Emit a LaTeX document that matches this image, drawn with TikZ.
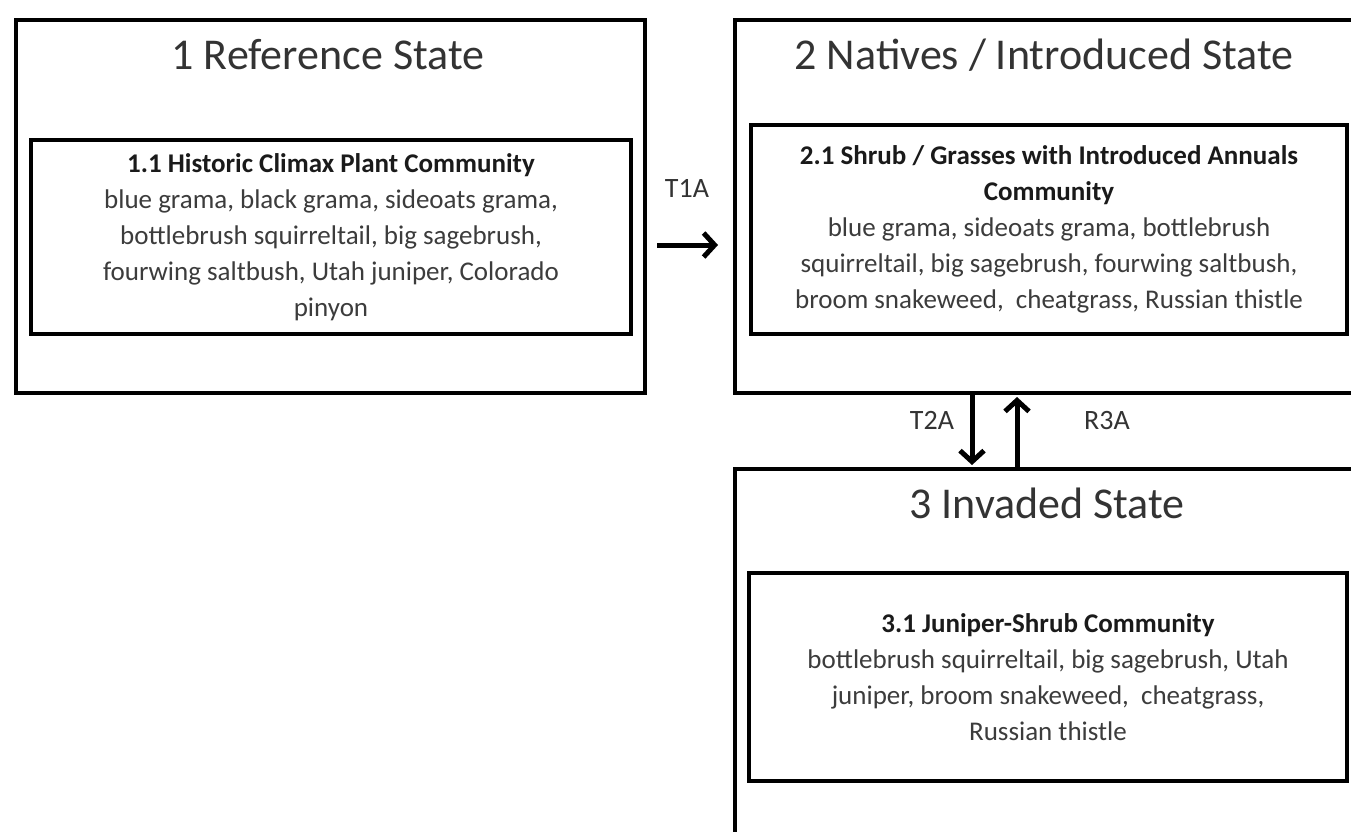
\documentclass[tikz,border=0pt]{standalone}
\usepackage{fontspec}
\setmainfont{Carlito}
\usetikzlibrary{arrows.meta,calc}
\definecolor{titlegray}{HTML}{333333}
\definecolor{bodygray}{HTML}{3C3C3C}
\definecolor{headgray}{HTML}{1A1A1A}
\begin{document}
\begin{tikzpicture}[x=1pt,y=-1pt,
  statebox/.style={draw=black,line width=4pt,rectangle,inner sep=0pt,anchor=north west},
  commbox/.style={draw=black,line width=4pt,rectangle,inner sep=0pt,anchor=north west,
    text=bodygray,font=\fontsize{27}{36}\selectfont,align=center},
  statetitle/.style={text=titlegray,font=\fontsize{44}{50}\selectfont,inner sep=0pt},
  lab/.style={text=titlegray,font=\fontsize{28}{32}\selectfont,inner sep=0pt},
  arr/.style={line width=5pt,-{Straight Barb[length=11pt,width=24pt]}}]
\clip (0,0) rectangle (1351,831);
\fill[white] (0,0) rectangle (1351,831);
% State 1
\node[statebox,minimum width=629pt,minimum height=373pt] (s1) at (14,18) {};
\node[statetitle] (s1t) at (328,55) {1 Reference State};
\node[commbox,minimum width=600pt,minimum height=194pt] (c11) at (29,138)
  {{\color{headgray}\bfseries 1.1 Historic Climax Plant Community}\\
   blue grama, black grama, sideoats grama,\\
   bottlebrush squirreltail, big sagebrush,\\
   fourwing saltbush, Utah juniper, Colorado\\
   pinyon};
% State 2
\node[statebox,minimum width=629pt,minimum height=373pt] (s2) at (733,18) {};
\node[statetitle] (s2t) at (1044,55) {2 Natives / Introduced State};
\node[commbox,minimum width=596pt,minimum height=209pt] (c21) at (749,123)
  {{\color{headgray}\bfseries 2.1 Shrub / Grasses with Introduced Annuals}\\
   {\color{headgray}\bfseries Community}\\
   blue grama, sideoats grama, bottlebrush\\
   squirreltail, big sagebrush, fourwing saltbush,\\
   broom snakeweed,\ \ cheatgrass, Russian thistle};
% State 3
\node[statebox,minimum width=629pt,minimum height=400pt] (s3) at (733,467) {};
\node[statetitle] (s3t) at (1047,503) {3 Invaded State};
\node[commbox,minimum width=598pt,minimum height=208pt] (c31) at (747,571)
  {{\color{headgray}\bfseries 3.1 Juniper-Shrub Community}\\
   bottlebrush squirreltail, big sagebrush, Utah\\
   juniper, broom snakeweed,\ \ cheatgrass,\\
   Russian thistle};
% Transitions
\node[lab] (t1a) at (687,188) {T1A};
\coordinate (t1s) at (657,245);
\coordinate (t1e) at (718,245);
\draw[arr] (t1s) -- (t1e);
\node[lab] (t2a) at (932,420) {T2A};
\node[lab] (r3a) at (1107,420) {R3A};
\draw[arr] (s2.south -| 972,0) -- ([yshift=2pt]s3.north -| 972,0);
\draw[arr] (s3.north -| 1017,0) -- ([yshift=-2pt]s2.south -| 1017,0);
\end{tikzpicture}
\end{document}
